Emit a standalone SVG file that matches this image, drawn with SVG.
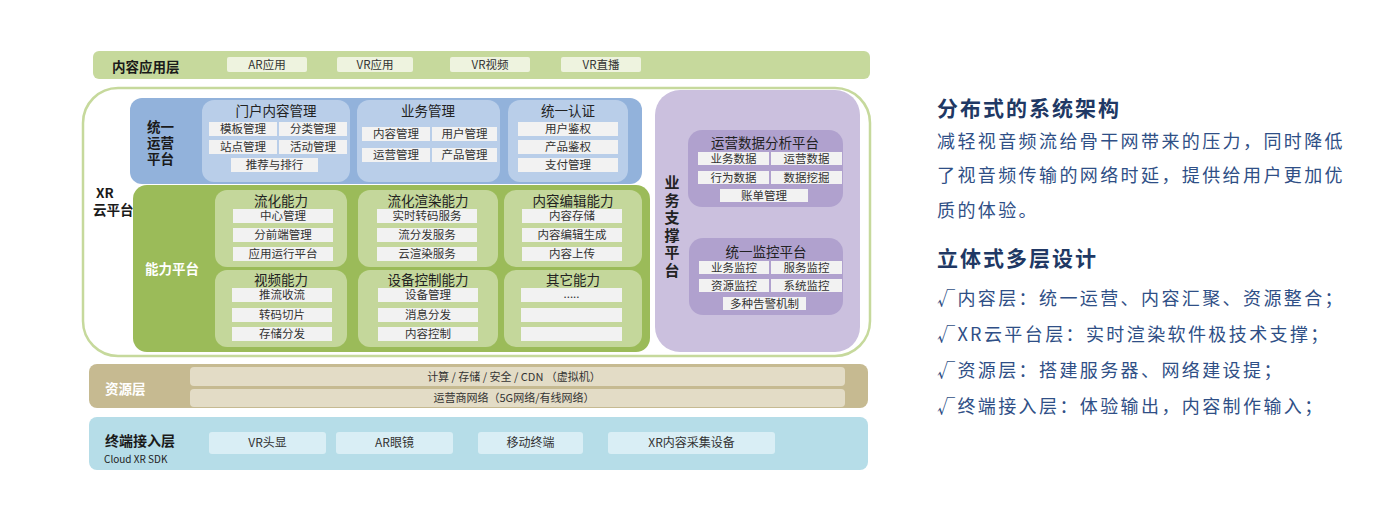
<svg xmlns="http://www.w3.org/2000/svg" width="1400" height="520" viewBox="0 0 1400 520">
<style>
text{font-family:"Noto Sans CJK SC","Liberation Sans",sans-serif;fill:#222;}
.lbl{font-weight:bold;font-size:13.5px;fill:#1a1a1a;}
.wl{font-weight:bold;font-size:13.5px;fill:#ffffff;}
.it{font-size:11.5px;text-anchor:middle;fill:#333;}
.ttl{font-size:13.5px;text-anchor:middle;fill:#222;}
.item{fill:#f2f2f2;}
.pill{fill:#eef3df;}
.bp{fill:#b9cee9;}
.gp{fill:#c4d79b;}
.pp{fill:#b0a1ce;}
.h1{font-size:21px;font-weight:bold;fill:#203864;letter-spacing:2px;}
.bd{font-size:18px;fill:#2f4f86;letter-spacing:2.4px;}
.tb{fill:#d9eef5;}
.tt{font-size:12px;text-anchor:middle;fill:#333;}
.rt{font-size:11px;text-anchor:middle;fill:#333;}
</style>

<g id="layer-content">
<rect x="93" y="51" width="777" height="28" rx="6" fill="#c6d99c"/>
<text class="lbl" x="112" y="71.5">内容应用层</text>
<rect class="pill" x="227" y="57" width="80" height="15" rx="2"/><text class="it" x="267" y="68.5">AR应用</text>
<rect class="pill" x="337" y="57" width="76" height="15" rx="2"/><text class="it" x="375" y="68.5">VR应用</text>
<rect class="pill" x="450" y="57" width="80" height="15" rx="2"/><text class="it" x="490" y="68.5">VR视频</text>
<rect class="pill" x="561" y="57" width="80" height="15" rx="2"/><text class="it" x="601" y="68.5">VR直播</text>
</g>

<g id="xr-cloud">
<rect x="83" y="88" width="787" height="268" rx="35" fill="#ffffff" stroke="#c6d99c" stroke-width="2.5"/>
<text class="lbl" x="96" y="198">XR</text>
<text class="lbl" x="93" y="215">云平台</text>
</g>

<g id="ops-platform">
<rect x="130" y="98" width="512" height="86" rx="12" fill="#92b2db"/>
<text class="lbl" x="147" y="132">统一</text>
<text class="lbl" x="147" y="148">运营</text>
<text class="lbl" x="147" y="164">平台</text>
</g>

<g id="portal">
<rect class="bp" x="202" y="100" width="148" height="82" rx="12"/>
<text class="ttl" x="276" y="116">门户内容管理</text>
<rect class="item" x="209" y="122" width="68" height="14"/><text class="it" x="243" y="133">模板管理</text>
<rect class="item" x="279" y="122" width="68" height="14"/><text class="it" x="313" y="133">分类管理</text>
<rect class="item" x="209" y="140" width="68" height="14"/><text class="it" x="243" y="151">站点管理</text>
<rect class="item" x="279" y="140" width="68" height="14"/><text class="it" x="313" y="151">活动管理</text>
<rect class="item" x="231" y="158" width="87" height="14"/><text class="it" x="274.5" y="169">推荐与排行</text>
</g>

<g id="biz-mgmt">
<rect class="bp" x="357" y="100" width="143" height="82" rx="12"/>
<text class="ttl" x="428" y="116">业务管理</text>
<rect class="item" x="362" y="127" width="68" height="14"/><text class="it" x="396" y="138">内容管理</text>
<rect class="item" x="432" y="127" width="65" height="14"/><text class="it" x="464.5" y="138">用户管理</text>
<rect class="item" x="362" y="148" width="68" height="14"/><text class="it" x="396" y="159">运营管理</text>
<rect class="item" x="432" y="148" width="65" height="14"/><text class="it" x="464.5" y="159">产品管理</text>
</g>

<g id="auth">
<rect class="bp" x="508" y="100" width="120" height="82" rx="12"/>
<text class="ttl" x="568" y="116">统一认证</text>
<rect class="item" x="518" y="122" width="100" height="14"/><text class="it" x="568" y="133">用户鉴权</text>
<rect class="item" x="518" y="140" width="100" height="14"/><text class="it" x="568" y="151">产品鉴权</text>
<rect class="item" x="518" y="158" width="100" height="14"/><text class="it" x="568" y="169">支付管理</text>
</g>

<g id="capability-platform">
<rect x="133" y="185" width="517" height="167" rx="14" fill="#9bbb59"/>
<text class="wl" x="145" y="274">能力平台</text>
</g>

<g id="streaming">
<rect class="gp" x="215" y="190" width="132" height="77" rx="12"/>
<text class="ttl" x="281" y="205.5">流化能力</text>
<rect class="item" x="233" y="209" width="100" height="14"/><text class="it" x="283" y="220">中心管理</text>
<rect class="item" x="233" y="228" width="100" height="14"/><text class="it" x="283" y="239">分前端管理</text>
<rect class="item" x="233" y="247" width="100" height="14"/><text class="it" x="283" y="258">应用运行平台</text>
</g>

<g id="video">
<rect class="gp" x="215" y="270" width="132" height="77" rx="12"/>
<text class="ttl" x="281" y="284.5">视频能力</text>
<rect class="item" x="232" y="288" width="100" height="14"/><text class="it" x="282" y="299">推流收流</text>
<rect class="item" x="232" y="308" width="100" height="14"/><text class="it" x="282" y="319">转码切片</text>
<rect class="item" x="232" y="327" width="100" height="14"/><text class="it" x="282" y="338">存储分发</text>
</g>

<g id="render">
<rect class="gp" x="358" y="190" width="140" height="77" rx="12"/>
<text class="ttl" x="428" y="205.5">流化渲染能力</text>
<rect class="item" x="377" y="209" width="100" height="14"/><text class="it" x="427" y="220">实时转码服务</text>
<rect class="item" x="377" y="228" width="100" height="14"/><text class="it" x="427" y="239">流分发服务</text>
<rect class="item" x="377" y="247" width="100" height="14"/><text class="it" x="427" y="258">云渲染服务</text>
</g>

<g id="device">
<rect class="gp" x="358" y="270" width="140" height="77" rx="12"/>
<text class="ttl" x="428" y="284.5">设备控制能力</text>
<rect class="item" x="378" y="288" width="100" height="14"/><text class="it" x="428" y="299">设备管理</text>
<rect class="item" x="378" y="308" width="100" height="14"/><text class="it" x="428" y="319">消息分发</text>
<rect class="item" x="378" y="327" width="100" height="14"/><text class="it" x="428" y="338">内容控制</text>
</g>

<g id="editing">
<rect class="gp" x="504" y="190" width="138" height="77" rx="12"/>
<text class="ttl" x="573" y="205.5">内容编辑能力</text>
<rect class="item" x="522" y="209" width="100" height="14"/><text class="it" x="572" y="220">内容存储</text>
<rect class="item" x="522" y="228" width="100" height="14"/><text class="it" x="572" y="239">内容编辑生成</text>
<rect class="item" x="522" y="247" width="100" height="14"/><text class="it" x="572" y="258">内容上传</text>
</g>

<g id="other">
<rect class="gp" x="504" y="270" width="138" height="77" rx="12"/>
<text class="ttl" x="573" y="284.5">其它能力</text>
<rect class="item" x="521" y="288" width="101" height="14"/><text class="it" x="571.5" y="298">.....</text>
<rect class="item" x="521" y="308" width="101" height="14"/>
<rect class="item" x="521" y="327" width="101" height="14"/>
</g>

<g id="support-platform">
<rect x="655" y="90" width="205" height="262" rx="25" fill="#cbc0de"/>
<g class="lbl" style="font-size:15px;text-anchor:middle">
<text x="672" y="188">业</text>
<text x="672" y="205.5">务</text>
<text x="672" y="223">支</text>
<text x="672" y="240.5">撑</text>
<text x="672" y="258">平</text>
<text x="672" y="275.5">台</text>
</g>
</g>

<g id="data-analysis">
<rect class="pp" x="688" y="130" width="155" height="77" rx="14"/>
<text class="ttl" x="765" y="148">运营数据分析平台</text>
<rect class="item" x="698" y="152" width="71" height="13"/><text class="it" x="733.5" y="162.5">业务数据</text>
<rect class="item" x="771" y="152" width="71" height="13"/><text class="it" x="806.5" y="162.5">运营数据</text>
<rect class="item" x="698" y="171" width="71" height="13"/><text class="it" x="733.5" y="181.5">行为数据</text>
<rect class="item" x="771" y="171" width="71" height="13"/><text class="it" x="806.5" y="181.5">数据挖掘</text>
<rect class="item" x="720" y="189" width="88" height="13"/><text class="it" x="764" y="199.5">账单管理</text>
</g>

<g id="monitoring">
<rect class="pp" x="689" y="238" width="154" height="77" rx="14"/>
<text class="ttl" x="766" y="257">统一监控平台</text>
<rect class="item" x="699" y="261" width="70" height="13"/><text class="it" x="734" y="271.5">业务监控</text>
<rect class="item" x="771" y="261" width="71" height="13"/><text class="it" x="806.5" y="271.5">服务监控</text>
<rect class="item" x="699" y="279" width="70" height="13"/><text class="it" x="734" y="289.5">资源监控</text>
<rect class="item" x="771" y="279" width="71" height="13"/><text class="it" x="806.5" y="289.5">系统监控</text>
<rect class="item" x="723" y="297" width="83" height="13"/><text class="it" x="764.5" y="307.5">多种告警机制</text>
</g>

<g id="resource-layer">
<rect x="89" y="364" width="779" height="44" rx="8" fill="#c6ba91"/>
<text class="wl" x="105" y="394">资源层</text>
<rect x="190" y="367" width="655" height="19" rx="4" fill="#e3dcc6"/>
<rect x="190" y="389" width="655" height="18" rx="4" fill="#e3dcc6"/>
<text class="rt" x="514" y="380.5">计算 / 存储  / 安全 / CDN （虚拟机）</text>
<text class="rt" x="514" y="401.5">运营商网络（5G网络/有线网络）</text>
</g>

<g id="terminal-layer">
<rect x="89" y="417" width="779" height="53" rx="8" fill="#b6dde8"/>
<text class="lbl" x="105" y="446" style="font-size:14px">终端接入层</text>
<text x="104" y="463" style="font-size:10px;fill:#222">Cloud XR SDK</text>
<rect class="tb" x="209" y="432" width="117" height="22" rx="3"/><text class="tt" x="267.5" y="447">VR头显</text>
<rect class="tb" x="336" y="432" width="117" height="22" rx="3"/><text class="tt" x="394.5" y="447">AR眼镜</text>
<rect class="tb" x="478" y="432" width="105" height="22" rx="3"/><text class="tt" x="530.5" y="447">移动终端</text>
<rect class="tb" x="608" y="432" width="167" height="22" rx="3"/><text class="tt" x="691.5" y="447">XR内容采集设备</text>
</g>

<g id="connectors"></g>

<g id="description">
<text class="h1" x="937" y="116">分布式的系统架构</text>
<text class="bd" x="937" y="148">减轻视音频流给骨干网带来的压力，同时降低</text>
<text class="bd" x="937" y="182">了视音频传输的网络时延，提供给用户更加优</text>
<text class="bd" x="937" y="217">质的体验。</text>
<text class="h1" x="937" y="266">立体式多层设计</text>
<text class="bd" x="937" y="305">√内容层：统一运营、内容汇聚、资源整合；</text>
<text class="bd" x="937" y="341">√XR云平台层：实时渲染软件极技术支撑；</text>
<text class="bd" x="937" y="377">√资源层：搭建服务器、网络建设提；</text>
<text class="bd" x="937" y="413">√终端接入层：体验输出，内容制作输入；</text>
</g>
</svg>
